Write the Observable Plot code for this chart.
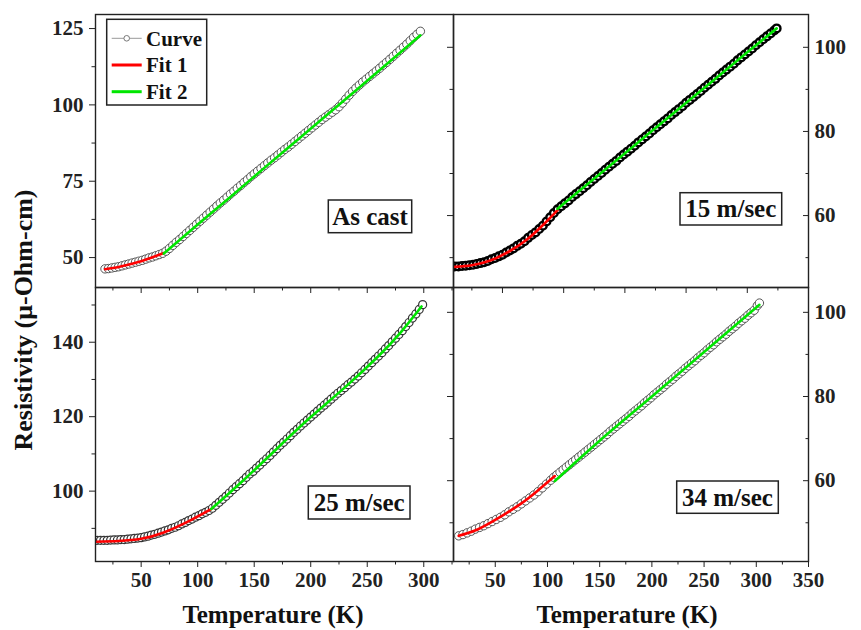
<!DOCTYPE html>
<html><head><meta charset="utf-8">
<script src="https://cdn.jsdelivr.net/npm/d3@7"></script>
<script src="https://cdn.jsdelivr.net/npm/@observablehq/plot@0.6"></script>
<style>
html,body{margin:0;padding:0;background:#fff;overflow:hidden;}
#chart{position:relative;width:861px;height:630px;}
#chart svg{position:absolute;left:0;top:0;}
</style>
</head><body><div id="chart"></div>
<script>
// ---------------- DATA ----------------
const seriesNames = ["Curve", "Fit 1", "Fit 2"];
const panelLabels = ["As cast", "15 m/sec", "25 m/sec", "34 m/sec"];
const xTitle = "Temperature (K)";
const yTitle = "Resistivity (\u03bc-Ohm-cm)";

// As cast
const asCastT = [18,21,24,27,30,33,36,39,42,45,48,51,54,57,60,63,66,69,72,75,78,81,84,87,90,93,96,99,102,105,108,111,114,117,120,123,126,129,132,135,138,141,144,147,150,153,156,159,162,165,168,171,174,177,180,183,186,189,192,195,198,201,204,207,210,213,216,219,222,225,228,231,234,237,240,243,246,249,252,255,258,261,264,267,270,273,276,279,282,285,288,291,294,297];
const asCastR = [46.3,46.4,46.6,46.8,47.0,47.3,47.6,47.9,48.2,48.5,48.8,49.1,49.5,49.9,50.2,50.6,51.0,51.4,52.1,53.0,54.0,55.0,55.9,56.9,57.9,58.9,59.9,60.9,61.9,62.9,63.9,64.9,65.9,66.9,67.9,68.8,69.8,70.8,71.7,72.7,73.6,74.6,75.5,76.5,77.4,78.3,79.2,80.1,81.0,81.9,82.7,83.6,84.5,85.4,86.2,87.1,88.0,88.9,89.8,90.7,91.6,92.5,93.4,94.3,95.2,96.0,96.8,97.6,98.4,99.4,100.6,101.9,103.2,104.4,105.5,106.5,107.5,108.4,109.3,110.2,111.1,112.0,113.0,113.9,114.9,115.9,116.9,117.9,118.9,119.9,121.0,122.1,123.1,124.1];
const asCastFit1T = [18,30,40,50,60,70];
const asCastFit1R = [46.2,46.9,47.8,48.8,50.1,51.5];
const asCastFit2T = [70,100,130,160,190,220,250,280,297];
const asCastFit2R = [51.3,60.8,70.2,79.7,89.1,98.5,107.9,117.4,122.8];

// 15 m/sec
const m15T = [11,14,17,20,23,26,29,32,35,38,41,44,47,50,53,56,59,62,65,68,71,74,77,80,83,86,89,92,95,98,101,104,107,110,113,116,119,122,125,128,131,134,137,140,143,146,149,152,155,158,161,164,167,170,173,176,179,182,185,188,191,194,197,200,203,206,209,212,215,218,221,224,227,230,233,236,239,242,245,248,251,254,257,260,263,266,269,272,274];
const m15R = [47.9,47.9,48.0,48.1,48.2,48.3,48.5,48.7,48.9,49.2,49.6,49.9,50.3,50.7,51.2,51.7,52.2,52.8,53.3,53.9,54.7,55.4,56.0,56.8,57.6,58.6,59.6,60.6,61.5,62.2,62.9,63.6,64.4,65.1,65.8,66.5,67.2,68.0,68.7,69.4,70.1,70.9,71.6,72.3,73.0,73.8,74.5,75.2,75.9,76.6,77.4,78.1,78.8,79.5,80.3,81.0,81.7,82.4,83.1,83.9,84.6,85.3,86.0,86.8,87.5,88.2,88.9,89.6,90.4,91.1,91.8,92.5,93.3,94.0,94.7,95.4,96.1,96.9,97.6,98.3,99.0,99.7,100.5,101.2,101.9,102.6,103.3,104.0,104.5];
const m15Fit1T = [11,25,40,55,70,85,95];
const m15Fit1R = [47.8,48.2,49.3,51.4,54.3,58.3,61.3];
const m15Fit2T = [95,130,170,210,250,274];
const m15Fit2R = [61.6,70.0,79.6,89.2,98.8,104.5];

// 25 m/sec
const m25T = [11,14,17,20,23,26,29,32,35,38,41,44,47,50,53,56,59,62,65,68,71,74,77,80,83,86,89,92,95,98,101,104,107,110,113,116,119,122,125,128,131,134,137,140,143,146,149,152,155,158,161,164,167,170,173,176,179,182,185,188,191,194,197,200,203,206,209,212,215,218,221,224,227,230,233,236,239,242,245,248,251,254,257,260,263,266,269,272,275,278,281,284,287,290,293,296,299];
const m25R = [86.8,86.8,86.8,86.8,86.85,86.9,86.9,87.0,87.0,87.1,87.2,87.3,87.4,87.5,87.7,87.9,88.2,88.4,88.7,89.0,89.3,89.6,90.0,90.3,90.7,91.2,91.6,92.1,92.5,93.0,93.4,93.9,94.3,94.8,95.4,96.2,97.0,97.8,98.6,99.5,100.4,101.2,102.0,102.8,103.7,104.6,105.3,106.2,107.0,107.9,108.7,109.6,110.5,111.4,112.3,113.1,114.0,114.9,115.8,116.6,117.5,118.3,119.1,119.9,120.7,121.5,122.3,123.1,123.9,124.7,125.5,126.3,127.0,127.8,128.6,129.3,130.1,130.9,131.8,132.7,133.6,134.5,135.4,136.3,137.2,138.2,139.1,140.1,141.1,142.1,143.1,144.2,145.3,146.5,147.6,148.8,150.1];
const m25Fit1T = [10,30,50,70,90,112];
const m25Fit1R = [86.4,86.6,87.2,88.9,91.6,95.2];
const m25Fit2T = [112,140,170,200,230,260,280,298];
const m25Fit2R = [95.2,102.8,111.4,119.9,127.8,136.3,142.8,149.6];

// 34 m/sec
const m34T = [15,19,23,27,31,35,39,43,47,51,55,59,63,67,71,75,79,83,87,91,95,99,103,106,109,112,115,118,121,124,127,130,133,136,139,142,145,148,151,154,157,160,163,166,169,172,175,178,181,184,187,190,193,196,199,202,205,208,211,214,217,220,223,226,229,232,235,238,241,244,247,250,253,256,259,262,265,268,271,274,277,280,283,286,289,292,295,298,301,303];
const m34R = [46.9,47.2,47.6,48.0,48.5,48.9,49.3,49.8,50.3,50.8,51.3,51.9,52.6,53.2,53.8,54.5,55.2,55.9,56.6,57.4,58.3,59.2,60.1,60.8,61.4,62.0,62.6,63.2,63.8,64.4,65.0,65.6,66.2,66.8,67.4,68.0,68.6,69.2,69.8,70.4,71.0,71.7,72.3,72.9,73.5,74.1,74.7,75.3,76.0,76.6,77.2,77.8,78.5,79.1,79.7,80.4,81.0,81.6,82.2,82.9,83.5,84.1,84.8,85.4,86.0,86.7,87.3,87.9,88.5,89.2,89.8,90.4,91.1,91.7,92.3,93.0,93.6,94.2,94.8,95.5,96.1,96.7,97.4,98.0,98.6,99.3,99.9,100.5,101.6,102.2];
const m34Fit1T = [15,30,45,60,75,90,107];
const m34Fit1R = [46.9,48.1,50.0,52.2,54.6,57.5,61.1];
const m34Fit2T = [107,150,200,250,303];
const m34Fit2R = [59.9,69.5,80.0,90.6,101.8];

// tick values
const leftXTicks = [50,100,150,200,250,300];
const leftXMinor = [25,75,125,175,225,275,325];
const tr_XTicks = [50,100,150,200,250];
const tr_XMinor = [25,75,125,175,225,275];
const brXTicks = [50,100,150,200,250,300,350];
const brXMinor = [25,75,125,175,225,275,325];
const asCastYTicks = [50,75,100,125];
const asCastYMinor = [62.5,87.5,112.5];
const m15YTicks = [60,80,100];
const m15YMinor = [50,70,90];
const m25YTicks = [100,120,140];
const m25YMinor = [90,110,130,150];
const m34YTicks = [60,80,100];
const m34YMinor = [50,70,90];

// ---------------- LAYOUT ----------------
const W = 861, H = 630;
const FONT = '"Liberation Serif","Times New Roman",serif';
const INK = "#222";
const zipTR = (T, R) => T.map((t, i) => ({T: t, R: R[i]}));

function panel(o) {
  const curve = zipTR(o.T, o.R);
  const f1 = zipTR(o.f1T, o.f1R);
  const f2 = zipTR(o.f2T, o.f2R);
  const marks = [
    Plot.line(curve, {x: "T", y: "R", stroke: "#8a8a8a", strokeWidth: 1, clip: true}),
    Plot.dot(curve, {x: "T", y: "R", r: o.dotR, fill: "white", stroke: o.dotStroke, strokeWidth: o.dotWidth, clip: true}),
    Plot.line(f1, {x: "T", y: "R", stroke: "#ff0000", strokeWidth: 2.6, curve: "natural", clip: true}),
    Plot.line(f2, {x: "T", y: "R", stroke: "#00e600", strokeWidth: 2.6, curve: "natural", clip: true}),
    Plot.frame({stroke: INK, strokeWidth: 1.4}),
    Plot.axisX({ticks: o.xTicks, anchor: "bottom", tickSize: 6, tickPadding: 5, label: null,
      tickFormat: o.xLabels ? (d => String(d)) : (() => "")}),
    Plot.axisX({ticks: o.xMinor, anchor: "bottom", tickSize: 3.5, label: null, tickFormat: () => ""})
  ];
  if (o.side === "left") {
    marks.push(
      Plot.axisY({ticks: o.yTicks, anchor: "left", tickSize: 6, tickPadding: 6, label: null}),
      Plot.axisY({ticks: o.yMinor, anchor: "left", tickSize: 3.5, label: null, tickFormat: () => ""})
    );
  } else {
    marks.push(
      Plot.axisY({ticks: o.yTicks, anchor: "left", tickSize: 6, label: null, tickFormat: () => ""}),
      Plot.axisY({ticks: o.yMinor, anchor: "left", tickSize: 3.5, label: null, tickFormat: () => ""}),
      Plot.axisY({ticks: o.yTicks, anchor: "right", tickSize: 6, insetRight: 6, label: null, tickFormat: () => ""}),
      Plot.axisY({ticks: o.yMinor, anchor: "right", tickSize: 3.5, insetRight: 3.5, label: null, tickFormat: () => ""}),
      Plot.axisY({ticks: o.yTicks, anchor: "right", tickSize: 0, tickPadding: 6, label: null})
    );
  }
  return Plot.plot({
    width: W, height: H,
    marginLeft: o.box[0], marginRight: W - o.box[1], marginTop: o.box[2], marginBottom: H - o.box[3],
    x: {domain: o.xDomain},
    y: {domain: o.yDomain},
    style: {background: "transparent", overflow: "visible", fontFamily: FONT, fontWeight: "bold", fontSize: "21px", color: INK, maxWidth: "none"},
    marks
  });
}

const chart = document.getElementById("chart");
const panels = [
  {T: asCastT, R: asCastR, f1T: asCastFit1T, f1R: asCastFit1R, f2T: asCastFit2T, f2R: asCastFit2R,
   box: [95, 453, 14, 287], xDomain: [9.6, 326.3], yDomain: [40.2, 129.6],
   xTicks: leftXTicks, xMinor: leftXMinor, xLabels: false, yTicks: asCastYTicks, yMinor: asCastYMinor, side: "left",
   dotStroke: "#444", dotWidth: 0.9, dotR: 4.2},
  {T: m15T, R: m15R, f1T: m15Fit1T, f1R: m15Fit1R, f2T: m15Fit2T, f2R: m15Fit2R,
   box: [453, 808, 14, 287], xDomain: [10, 300], yDomain: [42.9, 107.8],
   xTicks: tr_XTicks, xMinor: tr_XMinor, xLabels: false, yTicks: m15YTicks, yMinor: m15YMinor, side: "right",
   dotStroke: "#000", dotWidth: 2.4, dotR: 3.8},
  {T: m25T, R: m25R, f1T: m25Fit1T, f1R: m25Fit1R, f2T: m25Fit2T, f2R: m25Fit2R,
   box: [95, 453, 287, 561], xDomain: [9.6, 326.3], yDomain: [81.1, 154.7],
   xTicks: leftXTicks, xMinor: leftXMinor, xLabels: true, yTicks: m25YTicks, yMinor: m25YMinor, side: "left",
   dotStroke: "#333", dotWidth: 1.2, dotR: 4},
  {T: m34T, R: m34R, f1T: m34Fit1T, f1R: m34Fit1R, f2T: m34Fit2T, f2R: m34Fit2R,
   box: [453, 808, 287, 561], xDomain: [10, 350], yDomain: [40.8, 105.9],
   xTicks: brXTicks, xMinor: brXMinor, xLabels: true, yTicks: m34YTicks, yMinor: m34YMinor, side: "right",
   dotStroke: "#444", dotWidth: 0.9, dotR: 4.2}
];
panels.forEach(p => chart.appendChild(panel(p)));

// ---------------- annotations ----------------
const ov = d3.select(chart).append("svg").attr("width", W).attr("height", H)
  .attr("font-family", FONT).attr("font-weight", "bold").attr("fill", "#111");

// legend
const lg = ov.append("g");
lg.append("rect").attr("x", 106.7).attr("y", 19.3).attr("width", 100).attr("height", 85.7)
  .attr("fill", "white").attr("stroke", INK).attr("stroke-width", 1.5);
const rowsY = [38.3, 65, 91.7];
lg.append("line").attr("x1", 111.7).attr("x2", 141.7).attr("y1", rowsY[0]).attr("y2", rowsY[0]).attr("stroke", "#999").attr("stroke-width", 1);
lg.append("circle").attr("cx", 126.7).attr("cy", rowsY[0]).attr("r", 2.8).attr("fill", "white").attr("stroke", "#777").attr("stroke-width", 1);
lg.append("line").attr("x1", 111.7).attr("x2", 141.7).attr("y1", rowsY[1]).attr("y2", rowsY[1]).attr("stroke", "#ff0000").attr("stroke-width", 3);
lg.append("line").attr("x1", 111.7).attr("x2", 141.7).attr("y1", rowsY[2]).attr("y2", rowsY[2]).attr("stroke", "#00e600").attr("stroke-width", 3);
seriesNames.forEach((s, i) => lg.append("text").attr("x", 146).attr("y", rowsY[i] + 7.3).attr("font-size", 21).text(s));

// panel tags
const tagBoxes = [[328.3, 200, 83.4, 32.7], [680, 192.7, 101.7, 32.3], [308.3, 486, 101.7, 33], [676.7, 481, 101.6, 32.3]];
panelLabels.forEach((t, i) => {
  const [x, y, w, h] = tagBoxes[i];
  ov.append("rect").attr("x", x).attr("y", y).attr("width", w).attr("height", h)
    .attr("fill", "white").attr("stroke", INK).attr("stroke-width", 1.5);
  ov.append("text").attr("x", x + w / 2).attr("y", y + h / 2 + 8.5).attr("text-anchor", "middle")
    .attr("font-size", 25).text(t);
});

// axis titles
[273, 627].forEach(cx => ov.append("text").attr("x", cx).attr("y", 623).attr("text-anchor", "middle")
  .attr("font-size", 25).text(xTitle));
ov.append("text").attr("transform", "translate(32,320) rotate(-90)").attr("text-anchor", "middle")
  .attr("font-size", 26).text(yTitle);
</script>
</body></html>
